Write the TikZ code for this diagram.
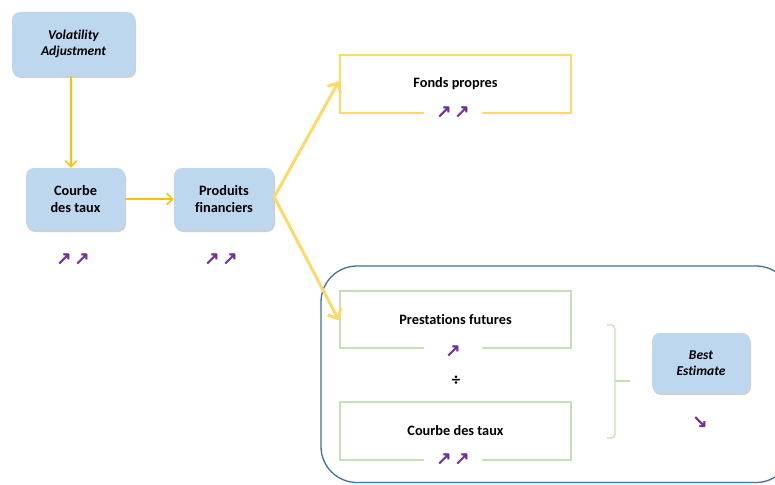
\documentclass[tikz,border=0pt]{standalone}
\usepackage{fontspec}
\setmainfont{Carlito}[Ligatures=NoCommon]
\newfontfamily\arrfont{DejaVu Sans}[FakeBold=2.5]
\usetikzlibrary{arrows.meta,shadows}
\definecolor{boxblue}{HTML}{BDD7EE}
\definecolor{gold}{HTML}{FFC000}
\definecolor{lightgold}{HTML}{FFD966}
\definecolor{framegreen}{HTML}{C5E0B4}
\definecolor{frameblue}{HTML}{41719C}
\definecolor{arrpurple}{HTML}{7030A0}
\tikzset{
  txt/.style={font=\fontsize{14.3}{16.5}\selectfont\bfseries, align=center},
  bluebox/.style={txt, rounded corners=8pt, fill=boxblue, draw=none,
    drop shadow={shadow xshift=1pt, shadow yshift=-2pt, opacity=0.3, fill=black!60},
    inner sep=0pt},
  framebox/.style={txt, draw=#1, line width=2pt, fill=white, inner sep=0pt},
  trend/.style={font=\arrfont\fontsize{18}{19}\selectfont, text=arrpurple, inner sep=1pt},
  gapcover/.style={trend, fill=white, minimum width=58pt, minimum height=12pt},
  thinarrow/.style={draw=gold, line width=1.5pt, -{Straight Barb[length=6pt,width=11pt]}},
  thickarrow/.style={draw=lightgold, line width=3pt, -{Straight Barb[length=8pt,width=15pt]}}
}
\begin{document}
\begin{tikzpicture}[x=1pt,y=-1pt]
\useasboundingbox (0,0) rectangle (775,484);
\clip (0,0) rectangle (775,484);
\fill[white] (0,0) rectangle (775,484);
% big frame
\draw[frameblue, line width=1.3pt, rounded corners=36pt] (321,266) rectangle (792,482.5);
% blue boxes
\node[bluebox, minimum width=123pt, minimum height=64pt, font=\fontsize{13.5}{16}\selectfont\bfseries\itshape] (VA) at (73.5,44) {Volatility\\Adjustment};
\node[bluebox, minimum width=99pt, minimum height=62pt] (CT) at (75.5,199) {Courbe\\des taux};
\node[bluebox, minimum width=100pt, minimum height=62pt] (PF) at (224,199) {Produits\\financiers};
\node[bluebox, minimum width=98pt, minimum height=60pt, font=\fontsize{13.5}{16}\selectfont\bfseries\itshape] (BE) at (701,363) {Best\\Estimate};
% framed boxes
\node[framebox=lightgold, minimum width=231pt, minimum height=58pt] (FP) at (455.5,84) {Fonds propres};
\node[framebox=framegreen, minimum width=231pt, minimum height=57pt] (PR) at (455.5,319.5) {Prestations futures};
\node[framebox=framegreen, minimum width=231pt, minimum height=58pt] (CT2) at (455.5,431) {Courbe des taux};
% trend arrows
\node[trend] (t1) at (73,259) {↗\,↗};
\node[trend] (t2) at (221,259) {↗\,↗};
\node[gapcover] (t3) at (453,112) {↗\,↗};
\node[gapcover] (t4) at (453,351) {↗};
\node[gapcover] (t5) at (453,459) {↗\,↗};
\node[trend] (t6) at (700,422) {↘};
\node[font=\fontsize{17}{18}\selectfont\bfseries] (div) at (456,381) {÷};
% connectors
\draw[thinarrow] (VA.south -| 71,0) -- (CT.north -| 71,0);
\draw[thinarrow] (CT.east) -- (PF.west);
\draw[thickarrow] ([yshift=2pt]PF.east) -- ([yshift=3pt]FP.west);
\draw[thickarrow] ([yshift=2pt]PF.east) -- ([yshift=-1pt]PR.west);
% brace
\draw[framegreen, line width=1.3pt, rounded corners=4pt] (607,325) -- (615,325) -- (615,438) -- (607,438);
\draw[framegreen, line width=1.3pt] (615,381) -- (630,381);
\end{tikzpicture}
\end{document}
